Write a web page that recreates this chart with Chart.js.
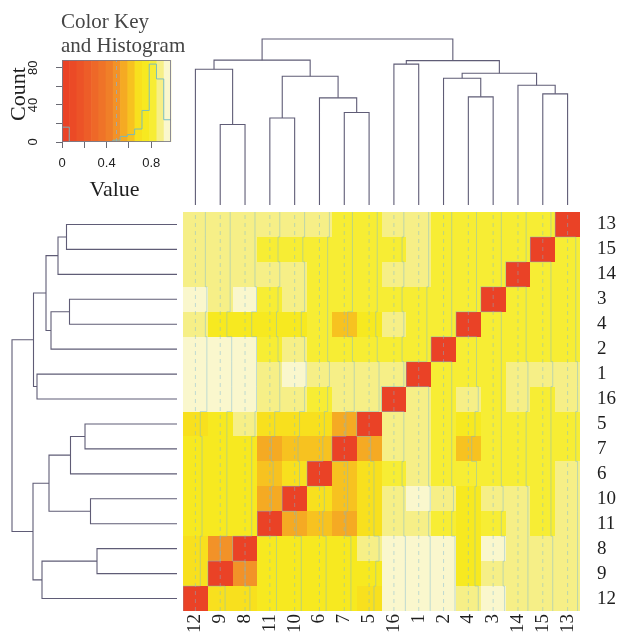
<!DOCTYPE html>
<html>
<head>
<meta charset="utf-8">
<title>Heatmap with dendrograms</title>
<script src="https://cdn.jsdelivr.net/npm/chart.js@4.4.1/dist/chart.umd.min.js"></script>
<style>
  html, body { margin: 0; padding: 0; background: #ffffff; }
  #page { position: relative; width: 619px; height: 639px; overflow: hidden; }
  #page canvas { position: absolute; }
</style>
</head>
<body>
<div id="page">
  <canvas id="colorKey" width="195" height="205" style="left:0px;top:0px;width:195px;height:205px"></canvas>
  <canvas id="colDendro" width="397" height="180" style="left:183px;top:30px;width:397px;height:180px"></canvas>
  <canvas id="rowDendro" width="183" height="399" style="left:0px;top:212px;width:183px;height:399px"></canvas>
  <canvas id="heat" width="436" height="427" style="left:183px;top:212px;width:436px;height:427px"></canvas>
</div>
<script>
// leaf order along the bottom (left to right) and down the right side (top to bottom)
var colLabels = ['12', '9', '8', '11', '10', '6', '7', '5', '16', '1', '2', '4', '3', '14', '15', '13'];
var rowLabels = ['13', '15', '14', '3', '4', '2', '1', '16', '5', '7', '6', '10', '11', '8', '9', '12'];

// one row per rowLabels entry, columns in colLabels order
var cellValues = [
  [0.88, 0.88, 0.88, 0.88, 0.88, 0.88, 0.81, 0.81, 0.88, 0.88, 0.81, 0.81, 0.81, 0.81, 0.81, 0],
  [0.88, 0.88, 0.88, 0.81, 0.81, 0.81, 0.81, 0.81, 0.81, 0.88, 0.81, 0.81, 0.81, 0.81, 0, 0.81],
  [0.88, 0.88, 0.88, 0.88, 0.88, 0.81, 0.81, 0.81, 0.88, 0.88, 0.81, 0.81, 0.81, 0, 0.81, 0.81],
  [0.94, 0.88, 0.94, 0.81, 0.88, 0.81, 0.81, 0.81, 0.81, 0.81, 0.81, 0.81, 0, 0.81, 0.81, 0.81],
  [0.88, 0.75, 0.75, 0.75, 0.75, 0.81, 0.62, 0.75, 0.88, 0.81, 0.81, 0, 0.81, 0.81, 0.81, 0.81],
  [0.94, 0.94, 0.94, 0.81, 0.88, 0.81, 0.81, 0.81, 0.81, 0.81, 0, 0.81, 0.81, 0.81, 0.81, 0.81],
  [0.94, 0.94, 0.94, 0.88, 0.94, 0.88, 0.88, 0.88, 0.88, 0, 0.81, 0.81, 0.81, 0.88, 0.88, 0.88],
  [0.94, 0.94, 0.94, 0.88, 0.88, 0.81, 0.88, 0.88, 0, 0.88, 0.81, 0.88, 0.81, 0.88, 0.81, 0.88],
  [0.68, 0.75, 0.88, 0.68, 0.68, 0.68, 0.55, 0, 0.88, 0.88, 0.81, 0.75, 0.81, 0.81, 0.81, 0.81],
  [0.75, 0.75, 0.75, 0.55, 0.62, 0.62, 0, 0.55, 0.88, 0.88, 0.81, 0.62, 0.81, 0.81, 0.81, 0.81],
  [0.75, 0.75, 0.75, 0.62, 0.68, 0, 0.62, 0.68, 0.81, 0.88, 0.81, 0.81, 0.81, 0.81, 0.81, 0.88],
  [0.75, 0.75, 0.75, 0.55, 0, 0.68, 0.62, 0.68, 0.88, 0.94, 0.88, 0.75, 0.88, 0.88, 0.81, 0.88],
  [0.75, 0.75, 0.75, 0, 0.55, 0.62, 0.55, 0.68, 0.88, 0.88, 0.81, 0.75, 0.81, 0.88, 0.81, 0.88],
  [0.68, 0.49, 0, 0.75, 0.75, 0.75, 0.75, 0.88, 0.94, 0.94, 0.94, 0.75, 0.94, 0.88, 0.88, 0.88],
  [0.68, 0, 0.49, 0.75, 0.75, 0.75, 0.75, 0.75, 0.94, 0.94, 0.94, 0.75, 0.88, 0.88, 0.88, 0.88],
  [0, 0.68, 0.68, 0.75, 0.75, 0.75, 0.75, 0.68, 0.94, 0.94, 0.94, 0.88, 0.94, 0.88, 0.88, 0.88]
];

// colour key: 16 breaks -> 15 colour bins, histogram counts per bin
var histBreaks = [0, 0.065, 0.130, 0.195, 0.261, 0.326, 0.391, 0.456, 0.521, 0.586, 0.651, 0.717, 0.782, 0.847, 0.912, 0.977];
var histCounts = [16, 0, 0, 0, 0, 0, 0, 2, 6, 8, 14, 34, 84, 68, 24];
var keyVline = 0.4885;
var keyTicksX = [0, 0.2, 0.4, 0.6, 0.8];
var keyTickLabelsX = ['0', '', '0.4', '', '0.8'];
var keyTicksY = [0, 20, 40, 60, 80];
var keyTickLabelsY = ['0', '', '40', '', '80'];

// hclust style merges: negative = leaf label, positive = earlier merge (1-based), then height
var dendroMerges = [
  [-8, -9, 0.80],
  [-10, -11, 0.865],
  [-5, -7, 0.92],
  [-6, 3, 1.065],
  [-3, -4, 1.075],
  [-13, -15, 1.105],
  [-14, 6, 1.19],
  [-2, 5, 1.26],
  [2, 4, 1.28],
  [8, 7, 1.31],
  [-12, 1, 1.35],
  [-1, -16, 1.40],
  [10, 12, 1.435],
  [11, 9, 1.44],
  [14, 13, 1.65]
];

// heat.colors(15), as it shows in the picture
var keyColors = [
  'rgb(234,66,38)', 'rgb(235,74,38)', 'rgb(236,83,39)', 'rgb(237,93,40)', 'rgb(238,104,40)',
  'rgb(239,115,40)', 'rgb(240,127,40)', 'rgb(242,146,40)', 'rgb(245,170,35)', 'rgb(247,194,32)',
  'rgb(248,224,30)', 'rgb(247,233,32)', 'rgb(247,237,52)', 'rgb(246,239,135)', 'rgb(250,247,205)'
];
var traceColor = 'rgba(120,185,215,0.45)';
var dendroColor = 'rgb(95,92,118)';
var labelFont = { family: 'Liberation Serif', size: 19 };
var tickFont = { family: 'Liberation Sans', size: 13 };

var keyMax = histBreaks[histBreaks.length - 1];
var keyYMax = Math.max.apply(null, histCounts) / 0.95;

function binOf(v) {
  for (var i = 1; i < histBreaks.length; i++) {
    if (v < histBreaks[i]) return i - 1;
  }
  return histBreaks.length - 2;
}

function dendroSegments(posOf) {
  var nodes = [];
  function get(id) { return id < 0 ? { p: posOf(String(-id)), h: 0 } : nodes[id - 1]; }
  return dendroMerges.map(function (m) {
    var a = get(m[0]), b = get(m[1]);
    nodes.push({ p: (a.p + b.p) / 2, h: m[2] });
    return [[a.p, a.h], [a.p, m[2]], [b.p, m[2]], [b.p, b.h]];
  });
}

// keep label overhang from pushing the plot area around
function noOverhang(s) {
  s.paddingTop = 0; s.paddingBottom = 0; s.paddingLeft = 0; s.paddingRight = 0;
}

var quiet = {
  responsive: false,
  animation: false,
  events: [],
  plugins: { legend: { display: false }, tooltip: { enabled: false }, title: { display: false } }
};

// ---- column dendrogram (top)
new Chart(document.getElementById('colDendro'), {
  type: 'scatter',
  data: {
    datasets: dendroSegments(function (l) { return colLabels.indexOf(l) + 1; }).map(function (seg) {
      return {
        data: seg.map(function (s) { return { x: s[0], y: s[1] }; }),
        showLine: true, borderColor: dendroColor, borderWidth: 1.1, pointRadius: 0, clip: false
      };
    })
  },
  options: Object.assign({}, quiet, {
    layout: { padding: { top: 9, bottom: 5 } },
    scales: {
      x: { type: 'linear', display: false, min: 0.5, max: 16.5 },
      y: { type: 'linear', display: false, min: 0, max: 1.65 }
    }
  })
});

// ---- row dendrogram (left)
new Chart(document.getElementById('rowDendro'), {
  type: 'scatter',
  data: {
    datasets: dendroSegments(function (l) { return 16 - rowLabels.indexOf(l); }).map(function (seg) {
      return {
        data: seg.map(function (s) { return { x: s[1], y: s[0] }; }),
        showLine: true, borderColor: dendroColor, borderWidth: 1.1, pointRadius: 0, clip: false
      };
    })
  },
  options: Object.assign({}, quiet, {
    layout: { padding: { left: 12, right: 6 } },
    scales: {
      x: { type: 'linear', display: false, reverse: true, min: 0, max: 1.65 },
      y: { type: 'linear', display: false, min: 0.5, max: 16.5 }
    }
  })
});

// ---- heatmap
var cellPoints = [];
cellValues.forEach(function (row, r) {
  row.forEach(function (v, c) { cellPoints.push({ x: c + 1, y: 16 - r, v: v }); });
});

var heatDatasets = [{ data: cellPoints, pointRadius: 0, showLine: false }];
colLabels.forEach(function (l, c) {
  heatDatasets.push({
    data: [{ x: c + 1, y: 0.5 }, { x: c + 1, y: 16.5 }],
    showLine: true, borderColor: traceColor, borderWidth: 1, borderDash: [4, 4], pointRadius: 0
  });
});
colLabels.forEach(function (l, c) {
  var pts = [];
  for (var k = 1; k <= 16; k++) {
    var xv = c + 1 - 0.5 + cellValues[16 - k][c] / keyMax;
    if (k === 1) pts.push({ x: xv, y: 0.5 });
    pts.push({ x: xv, y: k + 0.5 });
  }
  heatDatasets.push({
    data: pts, showLine: true, stepped: 'before', borderColor: traceColor, borderWidth: 1, pointRadius: 0
  });
});

var heatCells = {
  id: 'heatCells',
  beforeDatasetsDraw: function (chart) {
    var ctx = chart.ctx, x = chart.scales.x, y = chart.scales.y;
    chart.data.datasets[0].data.forEach(function (d) {
      var x0 = Math.round(x.getPixelForValue(d.x - 0.5)), x1 = Math.round(x.getPixelForValue(d.x + 0.5));
      var y0 = Math.round(y.getPixelForValue(d.y + 0.5)), y1 = Math.round(y.getPixelForValue(d.y - 0.5));
      ctx.fillStyle = keyColors[binOf(d.v)];
      ctx.fillRect(x0, y0, x1 - x0, y1 - y0);
    });
  }
};

new Chart(document.getElementById('heat'), {
  type: 'scatter',
  data: { datasets: heatDatasets },
  options: Object.assign({}, quiet, {
    layout: { padding: 0 },
    scales: {
      x: {
        type: 'linear', min: 0.5, max: 16.5,
        afterBuildTicks: function (s) { s.ticks = colLabels.map(function (l, i) { return { value: i + 1 }; }); },
        ticks: {
          callback: function (v) { return colLabels[v - 1]; },
          autoSkip: false, minRotation: 90, maxRotation: 90, padding: 3, font: labelFont, color: '#1e1e1e'
        },
        grid: { display: false, drawTicks: false },
        border: { display: false },
        afterFit: function (s) { s.height = 28; noOverhang(s); }
      },
      y: {
        type: 'linear', position: 'right', min: 0.5, max: 16.5,
        afterBuildTicks: function (s) { s.ticks = rowLabels.map(function (l, i) { return { value: i + 1 }; }); },
        ticks: {
          callback: function (v) { return rowLabels[16 - v]; },
          autoSkip: false, padding: 17, font: labelFont, color: '#1e1e1e'
        },
        grid: { display: false, drawTicks: false },
        border: { display: false },
        afterFit: function (s) { s.width = 39; noOverhang(s); }
      }
    }
  }),
  plugins: [heatCells]
});

// ---- colour key with histogram
var keyPaint = {
  id: 'keyPaint',
  beforeDatasetsDraw: function (chart) {
    var ctx = chart.ctx, a = chart.chartArea, x = chart.scales.x;
    for (var k = 0; k < keyColors.length; k++) {
      var x0 = x.getPixelForValue(histBreaks[k]), x1 = x.getPixelForValue(histBreaks[k + 1]);
      ctx.fillStyle = keyColors[k];
      ctx.fillRect(x0, a.top, x1 - x0 + 0.6, a.bottom - a.top);
    }
  },
  afterDraw: function (chart) {
    var ctx = chart.ctx, a = chart.chartArea;
    ctx.save();
    ctx.strokeStyle = 'rgba(120,120,135,0.85)';
    ctx.lineWidth = 1;
    ctx.strokeRect(Math.round(a.left) + 0.5, Math.round(a.top) + 0.5,
      Math.round(a.right - a.left) - 1, Math.round(a.bottom - a.top) - 1);
    // title
    ctx.fillStyle = '#454545';
    ctx.font = '21px "Liberation Serif"';
    ctx.textAlign = 'left';
    ctx.textBaseline = 'alphabetic';
    ctx.fillText('Color Key', 61, 28);
    ctx.fillText('and Histogram', 61, 52);
    // axis titles
    ctx.fillStyle = '#1e1e1e';
    ctx.font = '22px "Liberation Serif"';
    ctx.textAlign = 'center';
    ctx.fillText('Value', (a.left + a.right) / 2 - 2, 196);
    ctx.translate(25, 94);
    ctx.rotate(-Math.PI / 2);
    ctx.fillText('Count', 0, 0);
    ctx.restore();
  }
};

var keyTickGrid = { display: true, drawOnChartArea: false, drawTicks: true, tickLength: 6, color: 'rgba(90,90,100,0.9)' };

new Chart(document.getElementById('colorKey'), {
  type: 'scatter',
  data: {
    datasets: [
      {
        data: histBreaks.map(function (b, i) { return { x: b, y: histCounts[Math.min(i, histCounts.length - 1)] }; }),
        showLine: true, stepped: 'before', borderColor: 'rgba(110,185,200,0.9)', borderWidth: 1, pointRadius: 0
      },
      {
        data: [{ x: keyVline, y: 0 }, { x: keyVline, y: keyYMax }],
        showLine: true, borderColor: 'rgba(150,170,190,0.8)', borderWidth: 1, borderDash: [4, 4], pointRadius: 0
      }
    ]
  },
  options: Object.assign({}, quiet, {
    layout: { padding: { top: 60, right: 24 } },
    scales: {
      x: {
        type: 'linear', min: 0, max: keyMax,
        afterBuildTicks: function (s) { s.ticks = keyTicksX.map(function (v) { return { value: v }; }); },
        ticks: {
          callback: function (v, i) { return keyTickLabelsX[i]; },
          autoSkip: false, maxRotation: 0, padding: 8, font: tickFont, color: '#222'
        },
        grid: keyTickGrid,
        border: { display: false },
        afterFit: function (s) { s.height = 63; noOverhang(s); }
      },
      y: {
        type: 'linear', min: 0, max: keyYMax,
        afterBuildTicks: function (s) { s.ticks = keyTicksY.map(function (v) { return { value: v }; }); },
        ticks: {
          callback: function (v, i) { return keyTickLabelsY[i]; },
          autoSkip: false, minRotation: 90, maxRotation: 90, crossAlign: 'center', padding: 15,
          font: tickFont, color: '#222'
        },
        grid: keyTickGrid,
        border: { display: false },
        afterFit: function (s) { s.width = 62; noOverhang(s); }
      }
    }
  }),
  plugins: [keyPaint]
});
</script>
</body>
</html>
